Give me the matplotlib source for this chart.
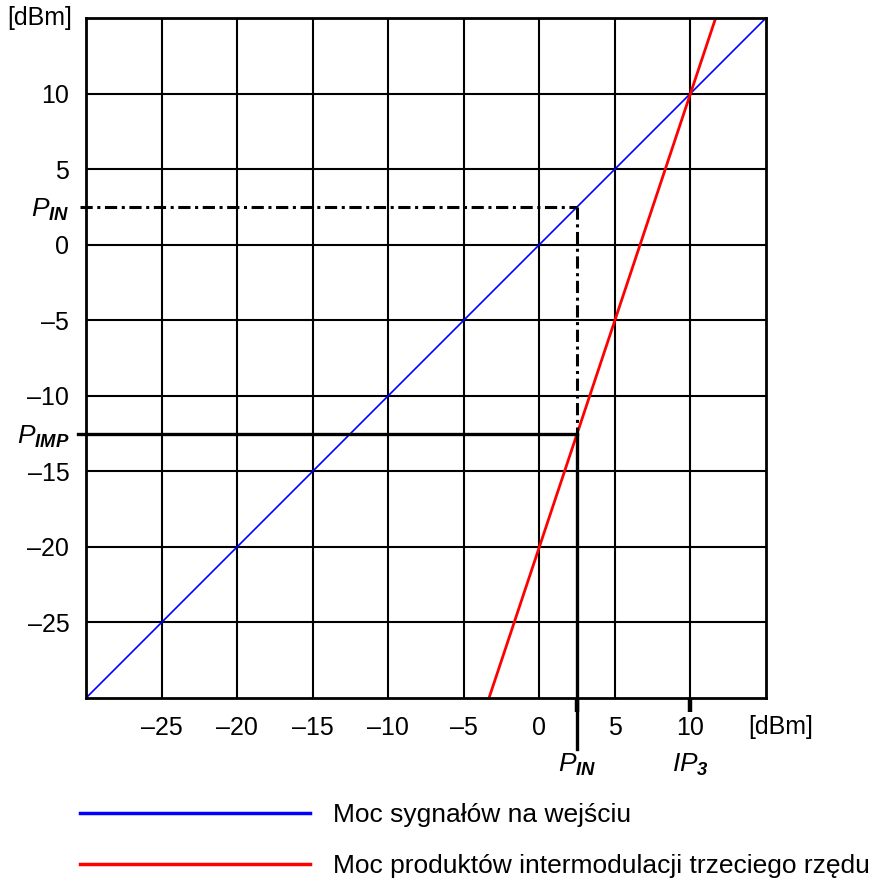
import matplotlib
matplotlib.use('Agg')
from matplotlib import pyplot as plt

plt.rcParams['font.family'] = ['Liberation Sans', 'DejaVu Sans']
plt.rcParams['mathtext.fontset'] = 'custom'
plt.rcParams['mathtext.it'] = 'Liberation Sans:italic'
plt.rcParams['mathtext.bf'] = 'Liberation Sans:italic:bold'
plt.rcParams['mathtext.rm'] = 'Liberation Sans'

# data (dBm)
lim = [-30, 15]
ticks = [-25, -20, -15, -10, -5, 0, 5, 10]
tick_labels = ['–25', '–20', '–15', '–10', '–5', '0', '5', '10']
signal_x = [-30, 15]
signal_y = [-30, 15]
imd_x = [-3.33, 11.67]
imd_y = [-30, 15]
p_in = 2.5
p_imp = -12.5
ip3 = 10
legend_labels = ['Moc sygnałów na wejściu',
                 'Moc produktów intermodulacji trzeciego rzędu']

fig = plt.figure(figsize=(8.75, 8.82), dpi=100)
ax = fig.add_axes([0.0983, 0.2086, 0.7771, 0.771])
ax.set_xlim(lim)
ax.set_ylim(lim)

ax.set_xticks(ticks, tick_labels)
ax.set_yticks(ticks, tick_labels)
ax.grid(True, which='major', color='black', linewidth=1.5)
ax.tick_params(which='major', length=0, labelsize=18)
ax.tick_params(axis='x', which='major', pad=13)
ax.tick_params(axis='y', which='major', pad=12)

# extra marked values
ax.xaxis.remove_overlapping_locs = False
ax.set_xticks([p_in, ip3], [r'$P_{\mathbf{IN}}$', r'$IP_{\mathbf{3}}$'], minor=True)
ax.set_yticks([p_in, p_imp], [r'$P_{\mathbf{IN}}$', r'$P_{\mathbf{IMP}}$'], minor=True)
ax.tick_params(axis='x', which='minor', length=10, width=3.2, direction='out',
               pad=29, labelsize=19)
ax.tick_params(axis='y', which='minor', length=0, pad=12, labelsize=19)

for s in ax.spines.values():
    s.set_linewidth(2)
    s.set_zorder(5)

l_sig, = ax.plot(signal_x, signal_y, color='#0000ff', lw=1.2, zorder=3)
l_imd, = ax.plot(imd_x, imd_y, color='#ff0000', lw=2, zorder=3)

dd = (0, (4, 1.5, 1, 1.5))
ax.plot([lim[0] - 0.4, p_in], [p_in, p_in], color='black', lw=2.2, ls=dd,
        clip_on=False, zorder=4)
ax.plot([p_in, p_in], [p_in, p_imp], color='black', lw=2.2, ls=dd, zorder=4)
ax.plot([lim[0] - 0.5, p_in], [p_imp, p_imp], color='black', lw=2.4,
        clip_on=False, zorder=4)
ax.plot([p_in, p_in], [p_imp, lim[0] - 3.4], color='black', lw=2.4,
        clip_on=False, zorder=4)

ax.text(-30.9, 15, '[dBm]', ha='right', va='center', fontsize=18)
ax.text(16.0, -31.9, '[dBm]', ha='center', va='center', fontsize=18)

fig.legend([l_sig, l_imd], legend_labels, loc='upper left',
           bbox_to_anchor=(0.0914, 0.0896), frameon=False, fontsize=19,
           handlelength=8.7, handletextpad=0.87, labelspacing=1.02,
           borderaxespad=0, borderpad=0)
for h in fig.legends[0].legend_handles:
    h.set_linewidth(2.5)

fig.savefig('out.png', dpi=100)
